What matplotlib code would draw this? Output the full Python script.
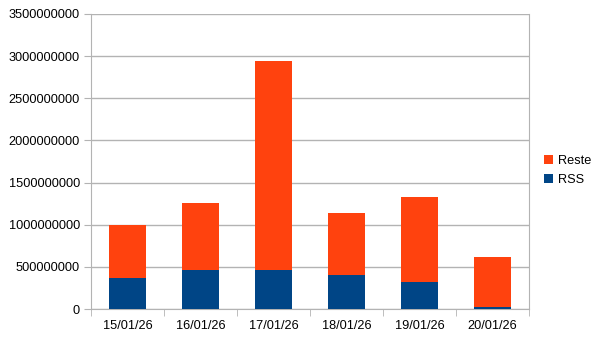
import numpy as np
from matplotlib import pyplot as plt

dates = ["15/01/26", "16/01/26", "17/01/26", "18/01/26", "19/01/26", "20/01/26"]
rss = [365000000, 460000000, 468000000, 408000000, 321000000, 27000000]
reste = [631000000, 798000000, 2472000000, 731000000, 1012000000, 592000000]

plt.rcParams['font.family'] = ['Liberation Sans', 'DejaVu Sans']

fig = plt.figure(figsize=(6.05, 3.41), dpi=100)
ax = fig.add_axes([0.1504, 0.0938, 0.7240, 0.8652])

x = np.arange(len(dates))
ax.bar(x, rss, width=0.5, color="#004586", label="RSS", zorder=3)
ax.bar(x, reste, width=0.5, bottom=rss, color="#ff420e", label="Reste", zorder=3)

ax.set_xlim(-0.5, len(dates) - 0.5)
ax.set_ylim(0, 3500000000)
ax.set_yticks(np.arange(0, 3500000001, 500000000))
ax.yaxis.set_major_formatter(plt.FuncFormatter(lambda v, p: f"{int(v)}"))
ax.set_xticks(x)
ax.set_xticklabels(dates)
ax.set_xticks(np.arange(-0.5, len(dates)), minor=True)

ax.grid(axis="y", color="#b3b3b3", linewidth=1, zorder=0)
ax.spines["top"].set_visible(False)
for s in ["left", "right", "bottom"]:
    ax.spines[s].set_color("#b3b3b3")
ax.tick_params(axis="y", length=5, color="#b3b3b3", labelsize=9.2, pad=3)
ax.tick_params(axis="x", which="major", length=0, labelsize=9.2, pad=8)
ax.tick_params(axis="x", which="minor", length=5, color="#b3b3b3")

handles, labels = ax.get_legend_handles_labels()
fig.legend(handles[::-1], labels[::-1], loc="center left", bbox_to_anchor=(0.88, 0.5),
           frameon=False, fontsize=9.2, handlelength=0.7, handleheight=0.7,
           handletextpad=0.4, labelspacing=0.5)

fig.savefig("out.png", dpi=100)
